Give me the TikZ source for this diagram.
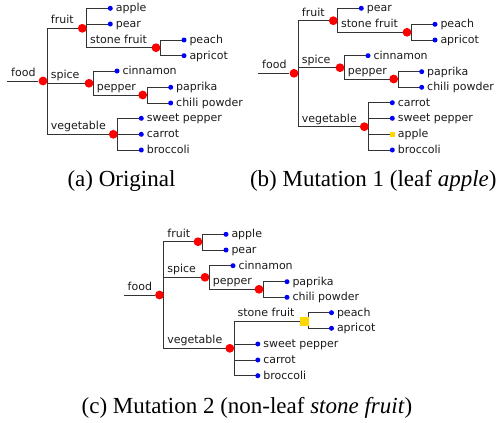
\documentclass[tikz,border=0pt]{standalone}
\usepackage{fontspec}
\setmainfont{Liberation Serif}
\newfontfamily\treefont{DejaVu Sans}
\usetikzlibrary{calc}
\pgfdeclarelayer{bg}
\pgfsetlayers{bg,main}
\definecolor{dotred}{HTML}{FF0000}
\definecolor{dotblue}{HTML}{0000FF}
\definecolor{dotyellow}{HTML}{FFD700}
\definecolor{linegray}{HTML}{333333}
\definecolor{textgray}{HTML}{1A1A1A}
\tikzset{
  edge/.style={draw=linegray, line width=1pt},
  rdot/.style={circle, fill=dotred, inner sep=0pt, minimum size=8.8pt},
  bdot/.style={circle, fill=dotblue, inner sep=0pt, minimum size=5pt},
  ysq/.style={rectangle, fill=dotyellow, inner sep=0pt, minimum size=5pt},
  ysqbig/.style={rectangle, fill=dotyellow, inner sep=0pt, minimum size=9pt},
  ttxt/.style={inner sep=0pt, anchor=base west, font=\treefont\fontsize{11}{13}\selectfont, text=textgray},
  captxt/.style={inner sep=0pt, anchor=base, font=\fontsize{23}{27}\selectfont},
}
% leaf: name, x, y, text, style
\newcommand\Leaf[5]{%
  \node[#5] (#1) at (#2,#3) {};
  \node[ttxt] (#1-t) at (#2+5.3,#3+3.6) {#4};}
% connector without label
\newcommand\Edge[2]{%
  \begin{pgfonlayer}{bg}\draw[edge] (#1.center) -- ++(4.4,0) |- (#2.center);\end{pgfonlayer}}
% connector with label
\newcommand\LEdge[3]{%
  \Edge{#1}{#2}%
  \node[ttxt] (#2-l) at ($(#1.center |- #2.center)+(7.7,-4.5)$) {#3};}
% root
\newcommand\Root[4]{% prefix, startx, y, dotx
  \coordinate (#1-s) at (#2,#3);
  \node[rdot] (#1-food) at (#4,#3) {};
  \begin{pgfonlayer}{bg}\draw[edge] (#1-s) -- (#1-food);\end{pgfonlayer}
  \node[ttxt] (#1-food-l) at (#2+4,#3-4.5) {food};}
\begin{document}
\begin{tikzpicture}[x=1pt,y=-1pt]
\useasboundingbox (0,0) rectangle (499,423);
% ---------------- (a) ----------------
\begin{scope}
  \Root{a}{7}{81}{43}
  \node[rdot] (a-fruit) at (82.3,28.3) {};
  \node[rdot] (a-spice) at (89,83.3) {};
  \node[rdot] (a-veg) at (113.3,134.3) {};
  \node[rdot] (a-stone) at (156,47.7) {};
  \node[rdot] (a-pepper) at (142.7,95) {};
  \LEdge{a-food}{a-fruit}{fruit}
  \LEdge{a-food}{a-spice}{spice}
  \LEdge{a-food}{a-veg}{vegetable}
  \Leaf{a-apple}{110.3}{8.3}{apple}{bdot}
  \Leaf{a-pear}{110.3}{24}{pear}{bdot}
  \Edge{a-fruit}{a-apple}
  \Edge{a-fruit}{a-pear}
  \LEdge{a-fruit}{a-stone}{stone fruit}
  \Leaf{a-peach}{184}{40}{peach}{bdot}
  \Leaf{a-apricot}{184}{55.7}{apricot}{bdot}
  \Edge{a-stone}{a-peach}
  \Edge{a-stone}{a-apricot}
  \Leaf{a-cinnamon}{117}{71}{cinnamon}{bdot}
  \Edge{a-spice}{a-cinnamon}
  \LEdge{a-spice}{a-pepper}{pepper}
  \Leaf{a-paprika}{170.7}{87.3}{paprika}{bdot}
  \Leaf{a-chili}{170.7}{103}{chili powder}{bdot}
  \Edge{a-pepper}{a-paprika}
  \Edge{a-pepper}{a-chili}
  \Leaf{a-sweet}{141.3}{118.3}{sweet pepper}{bdot}
  \Leaf{a-carrot}{141.3}{134.3}{carrot}{bdot}
  \Leaf{a-broccoli}{141.3}{150}{broccoli}{bdot}
  \Edge{a-veg}{a-sweet}
  \Edge{a-veg}{a-carrot}
  \Edge{a-veg}{a-broccoli}
\end{scope}
% ---------------- (b) ----------------
\begin{scope}[xshift=251pt]
  \Root{b}{7}{73.3}{43}
  \node[rdot] (b-fruit) at (82.3,20.7) {};
  \node[rdot] (b-spice) at (89,67.7) {};
  \node[rdot] (b-veg) at (113.3,126.7) {};
  \node[rdot] (b-stone) at (156,32.3) {};
  \node[rdot] (b-pepper) at (142.7,79) {};
  \LEdge{b-food}{b-fruit}{fruit}
  \LEdge{b-food}{b-spice}{spice}
  \LEdge{b-food}{b-veg}{vegetable}
  \Leaf{b-pear}{110.3}{8.3}{pear}{bdot}
  \Edge{b-fruit}{b-pear}
  \LEdge{b-fruit}{b-stone}{stone fruit}
  \Leaf{b-peach}{184}{24.3}{peach}{bdot}
  \Leaf{b-apricot}{184}{40}{apricot}{bdot}
  \Edge{b-stone}{b-peach}
  \Edge{b-stone}{b-apricot}
  \Leaf{b-cinnamon}{117}{55.7}{cinnamon}{bdot}
  \Edge{b-spice}{b-cinnamon}
  \LEdge{b-spice}{b-pepper}{pepper}
  \Leaf{b-paprika}{170.7}{71.7}{paprika}{bdot}
  \Leaf{b-chili}{170.7}{87.3}{chili powder}{bdot}
  \Edge{b-pepper}{b-paprika}
  \Edge{b-pepper}{b-chili}
  \Leaf{b-carrot}{141.3}{102.7}{carrot}{bdot}
  \Leaf{b-sweet}{141.3}{118.3}{sweet pepper}{bdot}
  \Leaf{b-apple}{141.3}{134.3}{apple}{ysq}
  \Leaf{b-broccoli}{141.3}{150}{broccoli}{bdot}
  \Edge{b-veg}{b-carrot}
  \Edge{b-veg}{b-sweet}
  \Edge{b-veg}{b-apple}
  \Edge{b-veg}{b-broccoli}
\end{scope}
% ---------------- (c) ----------------
\begin{scope}[xshift=116.5pt]
  \Root{c}{7}{295}{43}
  \node[rdot] (c-fruit) at (81.5,241.7) {};
  \node[rdot] (c-spice) at (88.5,277.3) {};
  \node[rdot] (c-veg) at (113.3,348.3) {};
  \node[rdot] (c-pepper) at (142.5,289.3) {};
  \node[ysqbig] (c-stone) at (187.5,321) {};
  \LEdge{c-food}{c-fruit}{fruit}
  \LEdge{c-food}{c-spice}{spice}
  \LEdge{c-food}{c-veg}{vegetable}
  \Leaf{c-apple}{109.5}{234.3}{apple}{bdot}
  \Leaf{c-pear}{109.5}{250}{pear}{bdot}
  \Edge{c-fruit}{c-apple}
  \Edge{c-fruit}{c-pear}
  \Leaf{c-cinnamon}{116.5}{265.7}{cinnamon}{bdot}
  \Edge{c-spice}{c-cinnamon}
  \LEdge{c-spice}{c-pepper}{pepper}
  \Leaf{c-paprika}{170.5}{281.7}{paprika}{bdot}
  \Leaf{c-chili}{170.5}{297.3}{chili powder}{bdot}
  \Edge{c-pepper}{c-paprika}
  \Edge{c-pepper}{c-chili}
  \LEdge{c-veg}{c-stone}{stone fruit}
  \Leaf{c-peach}{215}{312.7}{peach}{bdot}
  \Leaf{c-apricot}{215}{328.3}{apricot}{bdot}
  \Edge{c-stone}{c-peach}
  \Edge{c-stone}{c-apricot}
  \Leaf{c-sweet}{141.3}{344}{sweet pepper}{bdot}
  \Leaf{c-carrot}{141.3}{360}{carrot}{bdot}
  \Leaf{c-broccoli}{141.3}{375.7}{broccoli}{bdot}
  \Edge{c-veg}{c-sweet}
  \Edge{c-veg}{c-carrot}
  \Edge{c-veg}{c-broccoli}
\end{scope}
% ---------------- captions ----------------
\node[captxt] (cap-a) at (121.5,186.7) {(a) Original};
\node[captxt] (cap-b) at (373.3,186.7) {(b) Mutation 1 (leaf \textit{apple})};
\node[captxt] (cap-c) at (247,413.3) {(c) Mutation 2 (non-leaf \textit{stone fruit})};
\end{tikzpicture}
\end{document}
